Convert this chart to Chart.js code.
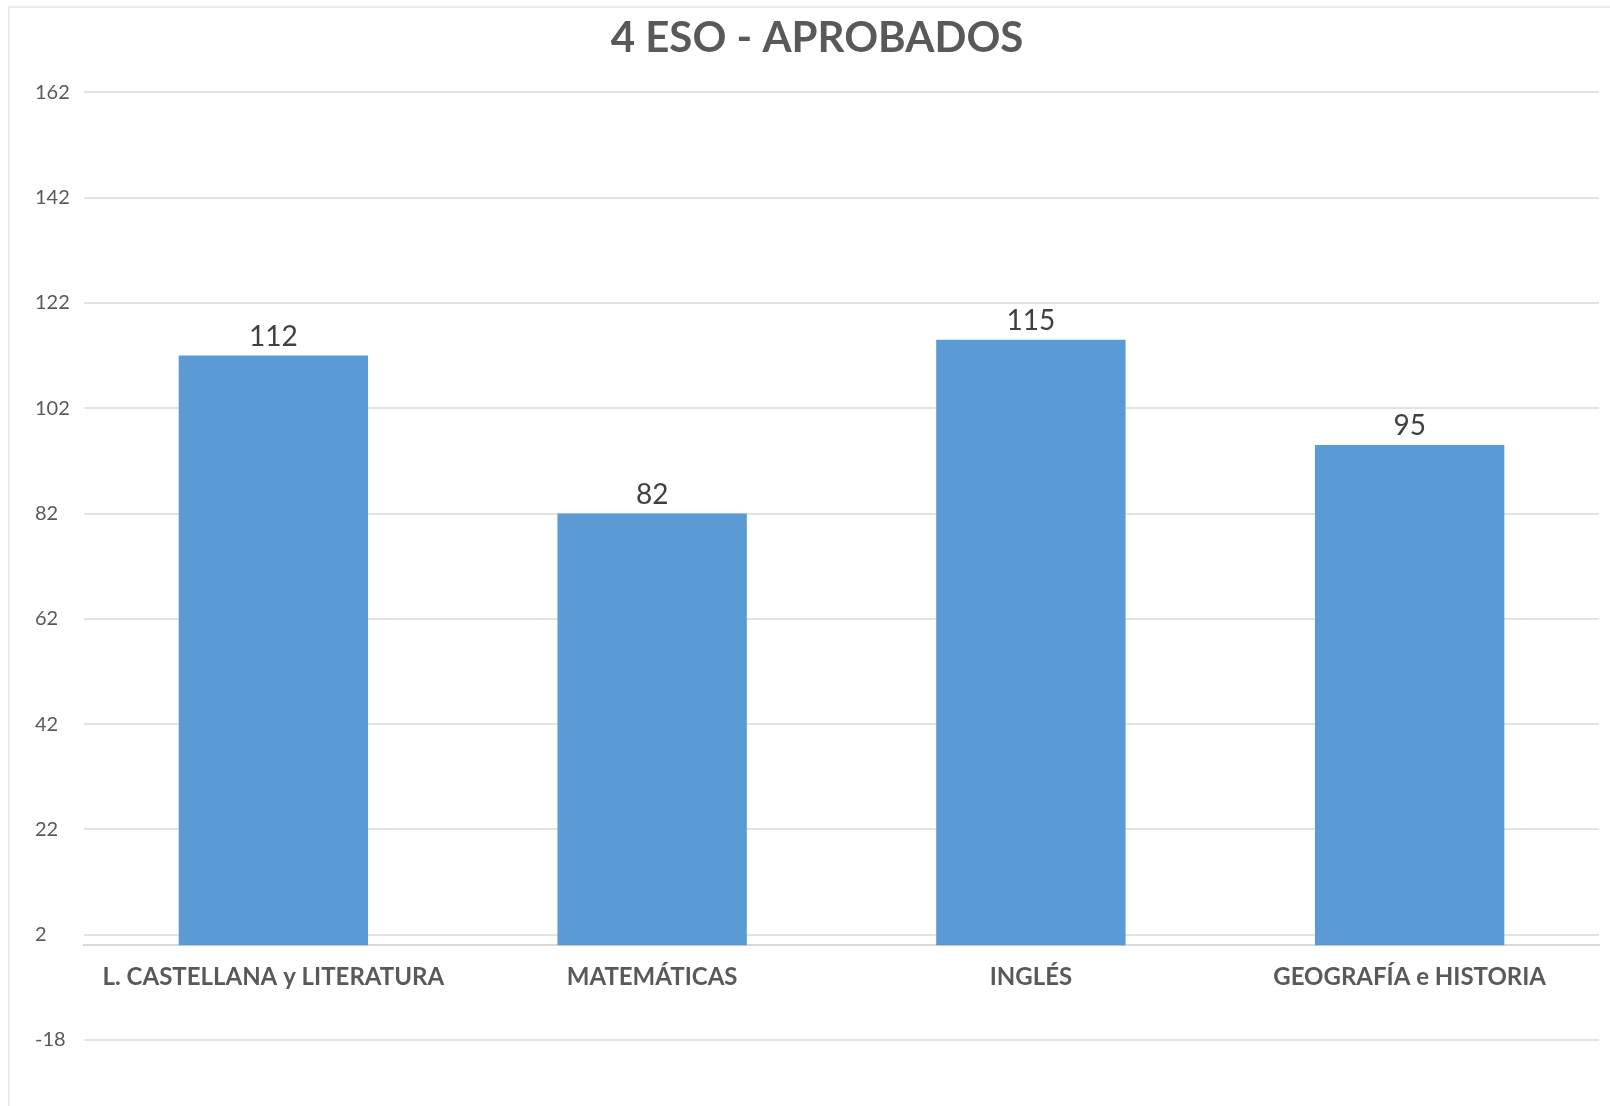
<!DOCTYPE html>
<html>
<head>
<meta charset="utf-8">
<script src="https://cdn.jsdelivr.net/npm/chart.js@4.4.1/dist/chart.umd.min.js"></script>
<style>
  html, body { margin: 0; padding: 0; background: #fff; overflow: hidden; }
  #wrap { position: absolute; left: 0; top: 0; width: 1610px; height: 1106px; }
  #frame {
    position: absolute; left: 8px; top: 6px; width: 2000px; height: 2000px;
    border-top: 2px solid #ebebeb; border-left: 2px solid #ebebeb;
    pointer-events: none;
  }
</style>
</head>
<body>
<div id="wrap">
  <canvas id="chart" width="1610" height="1106"></canvas>
</div>
<div id="frame"></div>
<script>
const categories = [
  "L. CASTELLANA y LITERATURA",
  "MATEMÁTICAS",
  "INGLÉS",
  "GEOGRAFÍA e HISTORIA",
];
const aprobados = [112, 82, 115, 95];
const yTickValues = [-18, 2, 22, 42, 62, 82, 102, 122, 142, 162];

const textGrey = "#595959";
const barBlue = "#5b9bd5";
const gridGrey = "#e3e3e3";

// value labels above bars, like Excel data labels
const barValueLabels = {
  id: "barValueLabels",
  afterDatasetsDraw(chart) {
    const ctx = chart.ctx;
    const meta = chart.getDatasetMeta(0);
    ctx.save();
    ctx.font = "28px Lato, sans-serif";
    ctx.fillStyle = "#404040";
    ctx.textAlign = "center";
    ctx.textBaseline = "alphabetic";
    meta.data.forEach((bar, i) => {
      ctx.fillText(String(aprobados[i]), bar.x, bar.y - 10);
    });
    ctx.restore();
  },
};

new Chart(document.getElementById("chart"), {
  type: "bar",
  data: {
    labels: categories,
    datasets: [
      {
        label: "Aprobados",
        data: aprobados,
        backgroundColor: barBlue,
        borderWidth: 0,
        barPercentage: 0.5,
        categoryPercentage: 1,
      },
    ],
  },
  options: {
    responsive: false,
    animation: false,
    layout: {
      padding: { left: 35, right: 11, top: 0, bottom: 66 },
    },
    plugins: {
      legend: { display: false },
      tooltip: { enabled: false },
      title: {
        display: true,
        text: "4 ESO - APROBADOS",
        color: textGrey,
        font: { family: "Lato, sans-serif", size: 42, weight: "bold" },
        padding: { top: 13, bottom: 29 },
      },
    },
    scales: {
      x: {
        position: { y: 0 },
        grid: { display: false, drawTicks: false },
        border: { display: true, color: "#d9d9d9", width: 2 },
        ticks: {
          color: textGrey,
          font: { family: "Lato, sans-serif", size: 24, weight: "bold" },
          padding: 18,
          maxRotation: 0,
          autoSkip: false,
        },
      },
      y: {
        min: -18,
        max: 162,
        afterBuildTicks: (axis) => {
          axis.ticks = yTickValues.map((v) => ({ value: v }));
        },
        afterFit: (axis) => {
          axis.width = 49;
        },
        grid: { color: gridGrey, lineWidth: 2, drawTicks: false },
        border: { display: false },
        ticks: {
          color: textGrey,
          crossAlign: "far",
          font: { family: "Lato, sans-serif", size: 20 },
          padding: 8,
        },
      },
    },
  },
  plugins: [barValueLabels],
});
</script>
</body>
</html>
